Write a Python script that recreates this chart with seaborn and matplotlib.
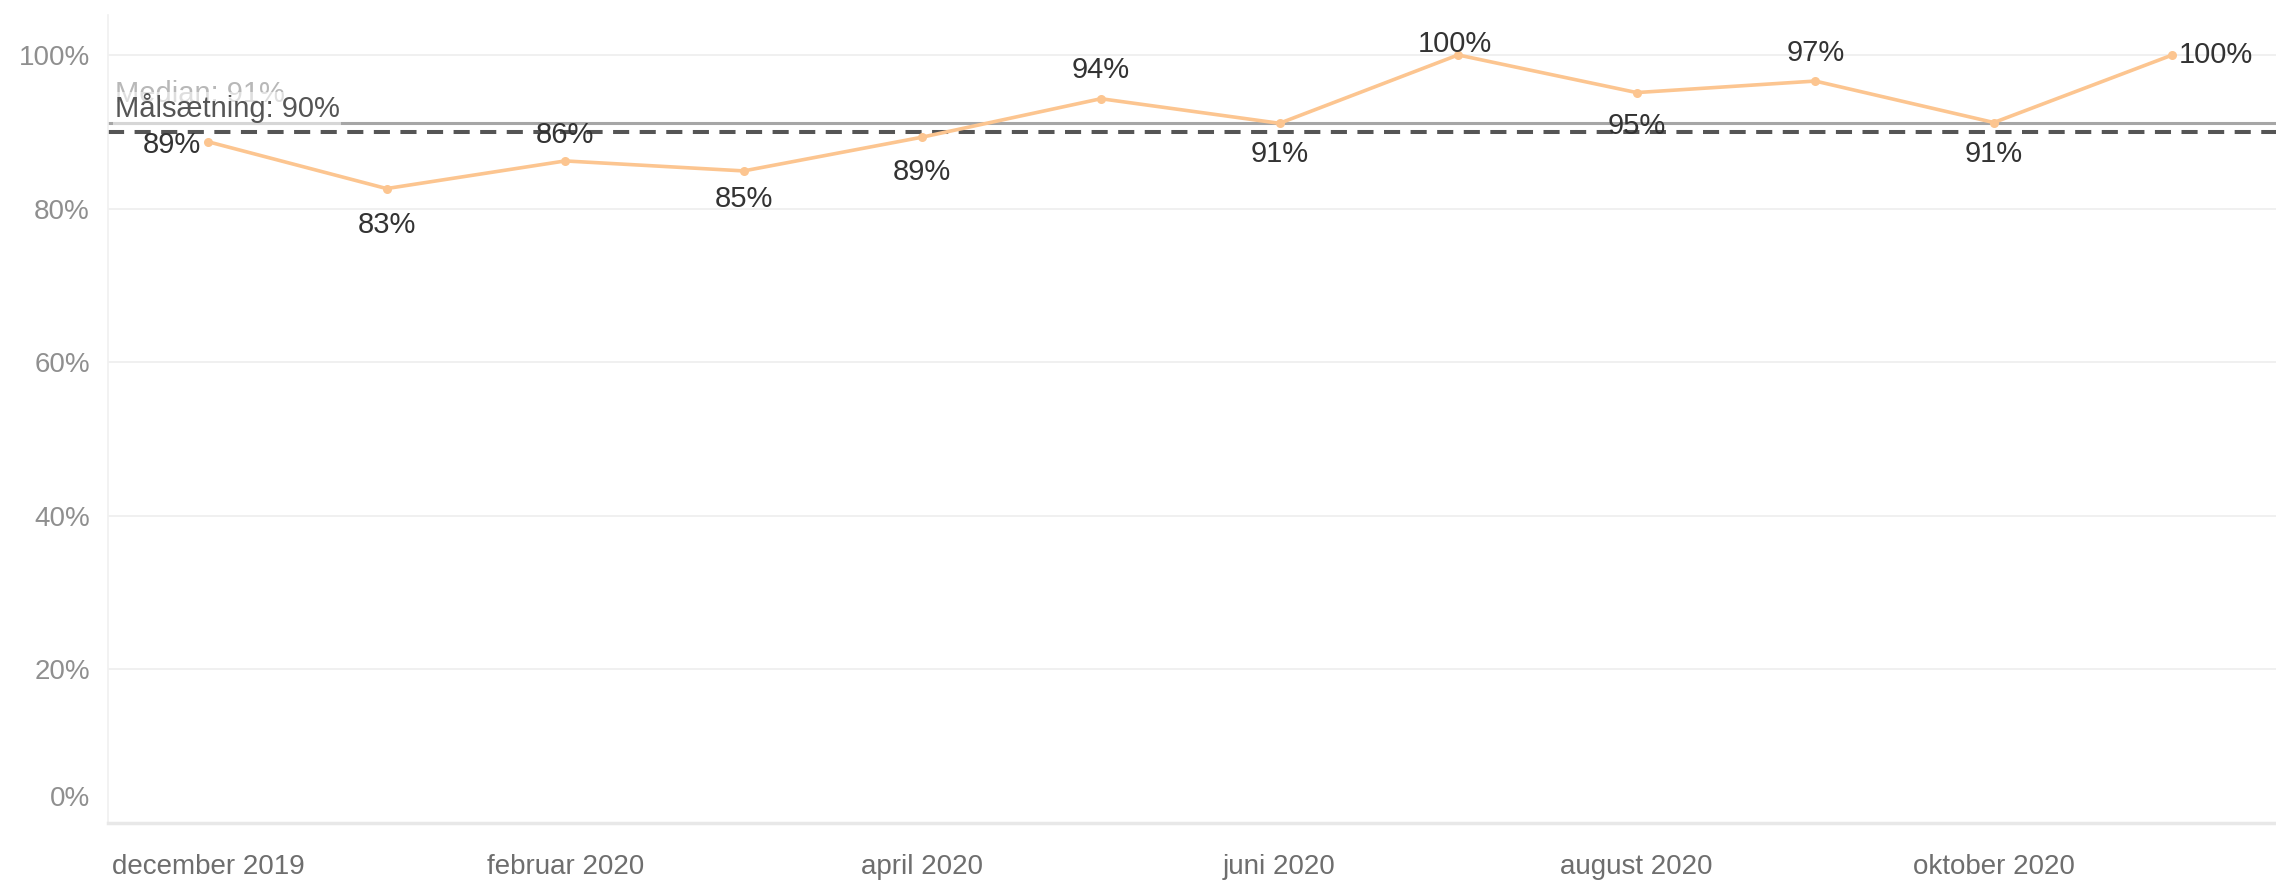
import matplotlib
matplotlib.use("Agg")
import matplotlib.pyplot as plt
import matplotlib.transforms as mtransforms
import seaborn as sns
import pandas as pd
import numpy as np

# data
maaneder = ["december 2019", "januar 2020", "februar 2020", "marts 2020", "april 2020",
            "maj 2020", "juni 2020", "juli 2020", "august 2020", "september 2020",
            "oktober 2020", "november 2020"]
andel = [0.887, 0.826, 0.862, 0.849, 0.893, 0.943, 0.911, 1.0, 0.951, 0.966, 0.912, 1.0]
maal = 0.90

# label placement per point (offset in points)
label_offsets = [(-26, -2), (0, -26), (0, 19), (0, -20), (0, -25), (0, 21),
                 (0, -22), (-2, 8), (0, -24), (0, 20), (0, -23), (31, 0)]

sns.set_style("white")
plt.rcParams['font.family'] = ['Liberation Sans', 'DejaVu Sans']

df = pd.DataFrame({"x": np.arange(len(maaneder)), "andel": andel})
median = np.median(andel)

fig = plt.figure(figsize=(22.76, 8.82), dpi=100)
ax = fig.add_axes([108 / 2276, 59 / 882, 1 - 108 / 2276, (823 - 15) / 882])

sns.lineplot(data=df, x="x", y="andel", ax=ax, color="#fcc590", linewidth=2.6,
             marker="o", markersize=6.5, markeredgewidth=0, zorder=3)

# median og målsætning
ax.axhline(median, color="#a6a6a6", linewidth=2.2, zorder=2)
ax.axhline(maal, color="#555555", linewidth=2.9, linestyle=(0, (4, 2.6)), zorder=2)

trans = mtransforms.blended_transform_factory(ax.transAxes, ax.transData)
ax.annotate(f"Median: {median:.0%}", xy=(0.003, median), xycoords=trans,
            xytext=(0, 21), textcoords="offset points", ha="left", va="center",
            fontsize=21, color="#b8b8b8", zorder=4)
ax.annotate(f"Målsætning: {maal:.0%}", xy=(0.003, maal), xycoords=trans,
            xytext=(0, 17), textcoords="offset points", ha="left", va="center",
            fontsize=21, color="#555555", zorder=5,
            bbox=dict(boxstyle="square,pad=0.05", fc="white", ec="none", alpha=0.55))

# data labels
for xi, yi, off in zip(df["x"], df["andel"], label_offsets):
    ax.annotate(f"{yi:.0%}", xy=(xi, yi), xytext=off, textcoords="offset points",
                ha="center", va="center", fontsize=21, color="#333333", zorder=6)

ax.set_xlim(-0.56, 11.58)
ax.set_ylim(0, 1.052)
ax.set_yticks([0, 0.2, 0.4, 0.6, 0.8, 1.0])
ax.set_yticklabels([f"{t:.0%}" for t in [0, 0.2, 0.4, 0.6, 0.8, 1.0]])
ax.set_xticks(df["x"][::2])
ax.set_xticklabels(maaneder[::2])
ax.set_xticks(df["x"], minor=True)
ax.set_xlabel("")
ax.set_ylabel("")

ax.grid(axis="y", color="#efefef", linewidth=1.3)
ax.tick_params(axis="y", length=0, pad=13, labelsize=20, labelcolor="#8f8f8f")
ax.tick_params(axis="x", which="both", length=9, color="#e2e2e2", width=1.2,
               pad=13, labelsize=20, labelcolor="#6e6e6e")

# 0% label sits a bit higher, like the original
nul = ax.yaxis.get_majorticklabels()[0]
nul.set_va("bottom")
nul.set_transform(nul.get_transform() + mtransforms.ScaledTranslation(0, 8 / 72, fig.dpi_scale_trans))

for side in ["top", "right"]:
    ax.spines[side].set_visible(False)
ax.spines["bottom"].set_color("#e8e8e8")
ax.spines["bottom"].set_linewidth(2.5)
ax.spines["left"].set_color("#f0f0f0")
ax.spines["left"].set_linewidth(1.2)

fig.savefig("out.png", dpi=100)
